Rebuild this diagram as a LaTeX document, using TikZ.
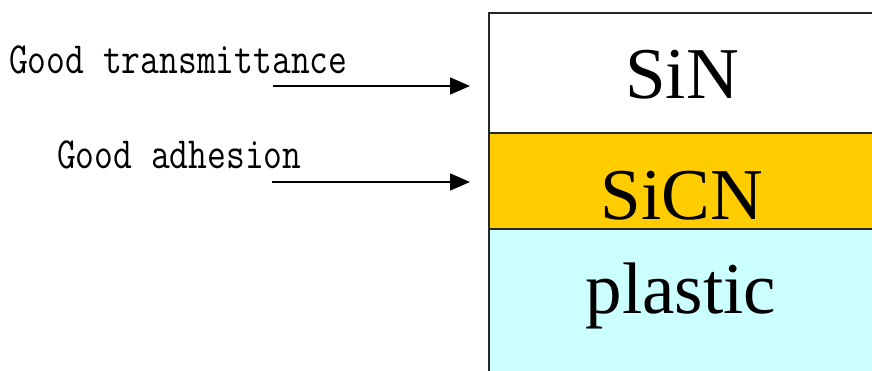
\documentclass[tikz,border=0pt]{standalone}
\usepackage{fontspec}
\usepackage{graphicx}
\usetikzlibrary{arrows.meta}
\newfontfamily\layerfont{Liberation Serif}
\tikzset{
  layertext/.style={anchor=base, inner sep=0pt, font=\layerfont\fontsize{73}{80}\selectfont},
  labeltext/.style={anchor=base west, inner sep=0pt, font=\ttfamily\fontsize{36.5}{40}\selectfont},
  pointer/.style={line width=1.5pt, -{Triangle[length=20pt,width=17pt]}},
  layerline/.style={line width=1.4pt, draw=black!85}
}
\begin{document}
\begin{tikzpicture}[x=1pt,y=1pt]
\useasboundingbox (0,0) rectangle (872,370);
\clip (0,0) rectangle (872,370);
\fill[white] (0,0) rectangle (872,370);
% layers
\fill[white] (489,237) rectangle (900,357);
\fill[fill={rgb,255:red,255;green,204;blue,0}] (489,141) rectangle (900,237);
\fill[fill={rgb,255:red,204;green,255;blue,255}] (489,-20) rectangle (900,141);
\draw[layerline] (489,-20) -- (489,357) -- (900,357);
\draw[layerline] (489,237) -- (900,237);
\draw[layerline] (489,141) -- (900,141);
% layer texts
\node[layertext] (sin) at (682,271) {SiN};
\node[layertext] (sicn) at (682,151) {SiCN};
\node[layertext] (plastic) at (681,57) {plastic};
% labels
\node[labeltext] (trans) at (9,296) {\scalebox{1}[1.22]{Good transmittance}};
\node[labeltext] (adh) at (57,202) {\scalebox{1}[1.22]{Good adhesion}};
% arrows
\coordinate (a1s) at (273,284);
\coordinate (a1e) at (470,284);
\coordinate (a2s) at (272,188);
\coordinate (a2e) at (470,188);
\draw[pointer] (a1s) -- (a1e);
\draw[pointer] (a2s) -- (a2e);
\end{tikzpicture}
\end{document}
